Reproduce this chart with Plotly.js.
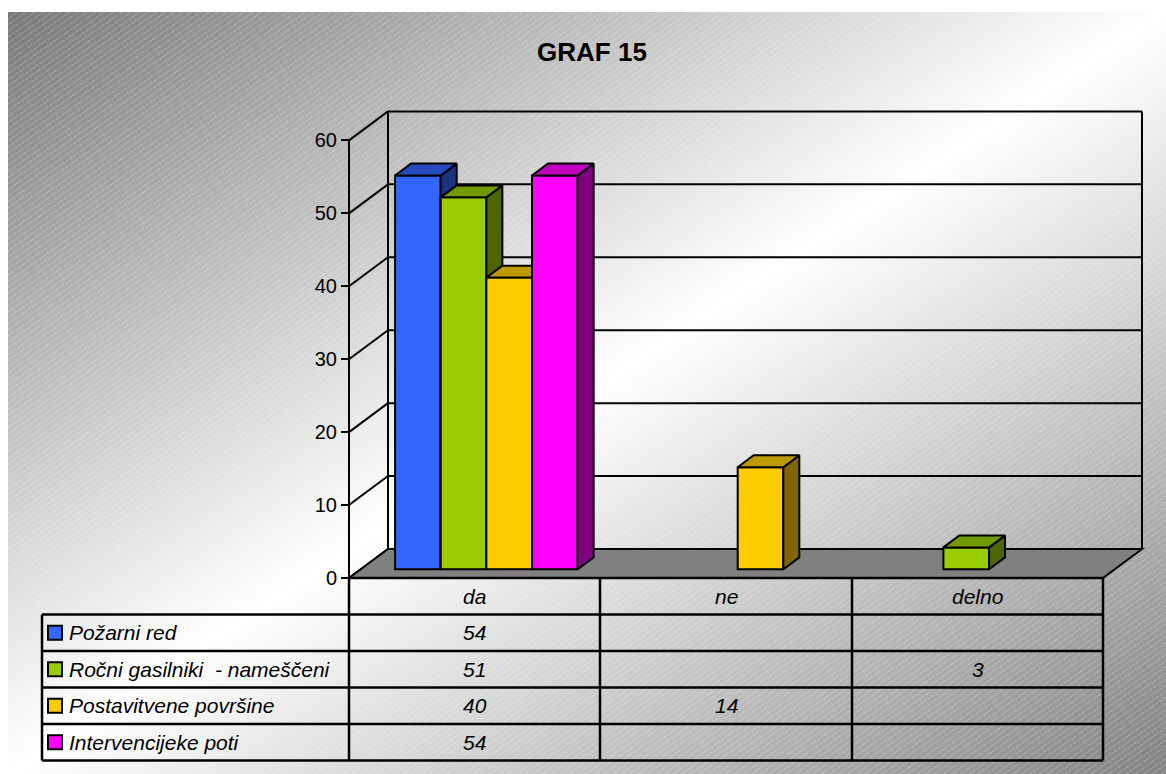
<!DOCTYPE html>
<html>
<head>
<meta charset="utf-8">
<script src="https://cdn.plot.ly/plotly-3.0.1.min.js"></script>
<style>
  html, body { margin: 0; padding: 0; background: #ffffff; }
  #bg {
    position: absolute; left: 8px; top: 12px; width: 1158px; height: 762px;
    background:
      repeating-linear-gradient(145deg, rgba(255,255,255,0.18) 0px, rgba(255,255,255,0.18) 1px, rgba(255,255,255,0) 1px, rgba(255,255,255,0) 5px),
      linear-gradient(to bottom right, #7a7a7a 0%, #ffffff 50%, #838383 100%);
  }
  #chart { position: absolute; left: 0; top: 0; width: 1166px; height: 774px; }
</style>
</head>
<body>
<div id="bg"></div>
<div id="chart"></div>
<script>
// ---------------- DATA ----------------
const categories = ['da', 'ne', 'delno'];
const seriesNames = ['Požarni red', 'Ročni gasilniki  - nameščeni', 'Postavitvene površine', 'Intervencijeke poti'];
const pozarniRed = [54, null, null];
const rocniGasilniki = [51, null, 3];
const postavitvenePovrsine = [40, 14, null];
const intervencijskePoti = [54, null, null];
const yTickValues = [0, 10, 20, 30, 40, 50, 60];
const chartTitle = 'GRAF 15';

// ---------------- STYLE / GEOMETRY ----------------
const seriesValues = [pozarniRed, rocniGasilniki, postavitvenePovrsine, intervencijskePoti];
const frontColors = ['#3366FF', '#99CC00', '#FFCC00', '#FF00FF'];
const topColors   = ['#264CBF', '#739900', '#BF9900', '#BF00BF'];
const sideColors  = ['#1A3380', '#4D6600', '#806600', '#800080'];

const W = 1166, H = 774;
const FONT = 'Arial, "Liberation Sans", sans-serif';
const G = {
  axisX: 349, catW: 251.33, y0: 578, unitH: 7.293,
  backDx: 39, backDy: 29, f1: 0.30, f2: 0.71, barW: 0.1816,
  domLeft: 336, domRight: 1162, domTop: 92, domBottom: 594,
  tblLeft: 42, tblRight: 1103, colEdges: [349, 600, 852, 1103],
  rowEdges: [578, 614.5, 651, 687.5, 724, 760.5]
};
const px = x => x / W;
const py = y => 1 - y / H;

const xRange = [-0.5 - (G.axisX - G.domLeft) / G.catW, -0.5 + (G.domRight - G.axisX) / G.catW];
const yRange = [-(G.domBottom - G.y0) / G.unitH, (G.y0 - G.domTop) / G.unitH];
const xDomain = [px(G.domLeft), px(G.domRight)];
const yDomain = [py(G.domBottom), py(G.domTop)];

const dxB = G.backDx / G.catW;       // depth offset of back wall (x units)
const dyB = G.backDy / G.unitH;      // depth offset of back wall (y units)
const baseY = G.f1 * dyB;            // bars' front plane base
const shiftX = G.f1 * dxB;
const ddx = (G.f2 - G.f1) * dxB;     // bar depth (x units)
const ddy = (G.f2 - G.f1) * dyB;     // bar depth (y units)
const nS = seriesValues.length;
const catIdx = categories.map((c, i) => i);
const xMin = -0.5, xMax = categories.length - 0.5;
const yMaxTick = yTickValues[yTickValues.length - 1];

// ---------------- TRACES ----------------
const traces = [];
seriesValues.forEach((vals, s) => {
  const ax = s === 0 ? 'x' : 'x' + (s + 1);
  const ay = s === 0 ? 'y' : 'y' + (s + 1);
  const off = -G.barW * nS / 2 + s * G.barW + shiftX;
  traces.push({
    type: 'bar', name: seriesNames[s], x: catIdx, y: vals,
    base: baseY, width: G.barW, offset: off,
    marker: { color: frontColors[s], line: { color: '#000', width: 2 } },
    xaxis: ax, yaxis: ay, showlegend: false, hoverinfo: 'skip'
  });
  const topX = [], topY = [], sideX = [], sideY = [];
  vals.forEach((v, c) => {
    if (v === null || v === undefined) return;
    const x0 = c + off, x1 = x0 + G.barW, yb = baseY, yt = baseY + v;
    topX.push(x0, x1, x1 + ddx, x0 + ddx, x0, null);
    topY.push(yt, yt, yt + ddy, yt + ddy, yt, null);
    sideX.push(x1, x1, x1 + ddx, x1 + ddx, x1, null);
    sideY.push(yb, yt, yt + ddy, yb + ddy, yb, null);
  });
  traces.push({
    type: 'scatter', mode: 'lines', x: sideX, y: sideY, fill: 'toself',
    fillcolor: sideColors[s], line: { color: '#000', width: 2 },
    xaxis: ax, yaxis: ay, showlegend: false, hoverinfo: 'skip'
  });
  traces.push({
    type: 'scatter', mode: 'lines', x: topX, y: topY, fill: 'toself',
    fillcolor: topColors[s], line: { color: '#000', width: 2 },
    xaxis: ax, yaxis: ay, showlegend: false, hoverinfo: 'skip'
  });
});

// ---------------- SHAPES (walls, floor, table) ----------------
const shapes = [];
const blk = w => ({ color: '#000', width: w });
// back wall gridlines
yTickValues.forEach(v => {
  shapes.push({ type: 'line', xref: 'x', yref: 'y', layer: 'below',
    x0: xMin + dxB, x1: xMax + dxB, y0: v + dyB, y1: v + dyB, line: blk(2) });
  // side wall diagonals
  shapes.push({ type: 'line', xref: 'x', yref: 'y', layer: 'below',
    x0: xMin, x1: xMin + dxB, y0: v, y1: v + dyB, line: blk(2) });
});
// back wall left & right vertical edges
shapes.push({ type: 'line', xref: 'x', yref: 'y', layer: 'below',
  x0: xMin + dxB, x1: xMin + dxB, y0: dyB, y1: yMaxTick + dyB, line: blk(2) });
shapes.push({ type: 'line', xref: 'x', yref: 'y', layer: 'below',
  x0: xMax + dxB, x1: xMax + dxB, y0: dyB, y1: yMaxTick + dyB, line: blk(2) });
// front value axis line
shapes.push({ type: 'line', xref: 'x', yref: 'y', layer: 'below',
  x0: xMin, x1: xMin, y0: 0, y1: yMaxTick, line: blk(2) });
// floor
shapes.push({ type: 'path', xref: 'x', yref: 'y', layer: 'below',
  path: `M${xMin},0 L${xMax},0 L${xMax + dxB},${dyB} L${xMin + dxB},${dyB} Z`,
  fillcolor: '#808080', line: blk(2) });

// table grid
const tl = 2.5;
shapes.push({ type: 'line', xref: 'paper', yref: 'paper',
  x0: px(G.colEdges[0]), x1: px(G.tblRight), y0: py(G.rowEdges[0]), y1: py(G.rowEdges[0]), line: blk(tl) });
G.rowEdges.slice(1).forEach(r => {
  shapes.push({ type: 'line', xref: 'paper', yref: 'paper',
    x0: px(G.tblLeft), x1: px(G.tblRight), y0: py(r), y1: py(r), line: blk(tl) });
});
const lastRow = G.rowEdges[G.rowEdges.length - 1];
shapes.push({ type: 'line', xref: 'paper', yref: 'paper',
  x0: px(G.tblLeft), x1: px(G.tblLeft), y0: py(G.rowEdges[1]), y1: py(lastRow), line: blk(tl) });
G.colEdges.forEach(c => {
  shapes.push({ type: 'line', xref: 'paper', yref: 'paper',
    x0: px(c), x1: px(c), y0: py(G.rowEdges[0]), y1: py(lastRow), line: blk(tl) });
});

// ---------------- ANNOTATIONS (table text, legend keys) ----------------
const annotations = [];
const tFont = { family: FONT, size: 21, color: '#000' };
const rowMid = r => (G.rowEdges[r] + G.rowEdges[r + 1]) / 2;
categories.forEach((cat, c) => {
  const cx = (G.colEdges[c] + G.colEdges[c + 1]) / 2;
  annotations.push({ xref: 'paper', yref: 'paper', x: px(cx), y: py(rowMid(0)),
    text: '<i>' + cat + '</i>', showarrow: false, xanchor: 'center', yanchor: 'middle', font: tFont });
  seriesValues.forEach((vals, s) => {
    if (vals[c] === null || vals[c] === undefined) return;
    annotations.push({ xref: 'paper', yref: 'paper', x: px(cx), y: py(rowMid(s + 1)),
      text: '<i>' + vals[c] + '</i>', showarrow: false, xanchor: 'center', yanchor: 'middle', font: tFont });
  });
});
seriesNames.forEach((nm, s) => {
  const ym = rowMid(s + 1);
  annotations.push({ xref: 'paper', yref: 'paper', x: px(67), y: py(ym),
    text: '<i>' + nm + '</i>', showarrow: false, xanchor: 'left', yanchor: 'middle', font: tFont });
  shapes.push({ type: 'rect', xref: 'paper', yref: 'paper',
    x0: px(48), x1: px(62), y0: py(ym + 7), y1: py(ym - 7),
    fillcolor: frontColors[s], line: blk(2) });
});

// ---------------- LAYOUT ----------------
const layout = {
  width: W, height: H,
  margin: { l: 0, r: 0, t: 0, b: 0, pad: 0 },
  paper_bgcolor: 'rgba(0,0,0,0)', plot_bgcolor: 'rgba(0,0,0,0)',
  showlegend: false,
  title: { text: '<b>' + chartTitle + '</b>', x: px(592), xref: 'paper', xanchor: 'center',
    y: py(52), yref: 'paper', yanchor: 'middle', font: { family: FONT, size: 26, color: '#000' } },
  xaxis: { domain: xDomain, range: xRange, visible: false, fixedrange: true },
  yaxis: { domain: yDomain, range: yRange, anchor: 'free', position: px(G.axisX), side: 'left',
    tickvals: yTickValues, ticktext: yTickValues.map(String), ticks: 'outside', ticklen: 8, tickwidth: 2,
    tickcolor: '#000', showline: false, showgrid: false, zeroline: false, fixedrange: true,
    tickfont: { family: FONT, size: 20, color: '#000' } },
  shapes: shapes,
  annotations: annotations
};
for (let s = 1; s < nS; s++) {
  layout['xaxis' + (s + 1)] = { overlaying: 'x', range: xRange, visible: false, fixedrange: true };
  layout['yaxis' + (s + 1)] = { overlaying: 'y', range: yRange, visible: false, fixedrange: true };
}

Plotly.newPlot('chart', traces, layout, { staticPlot: true, displayModeBar: false });
</script>
</body>
</html>
